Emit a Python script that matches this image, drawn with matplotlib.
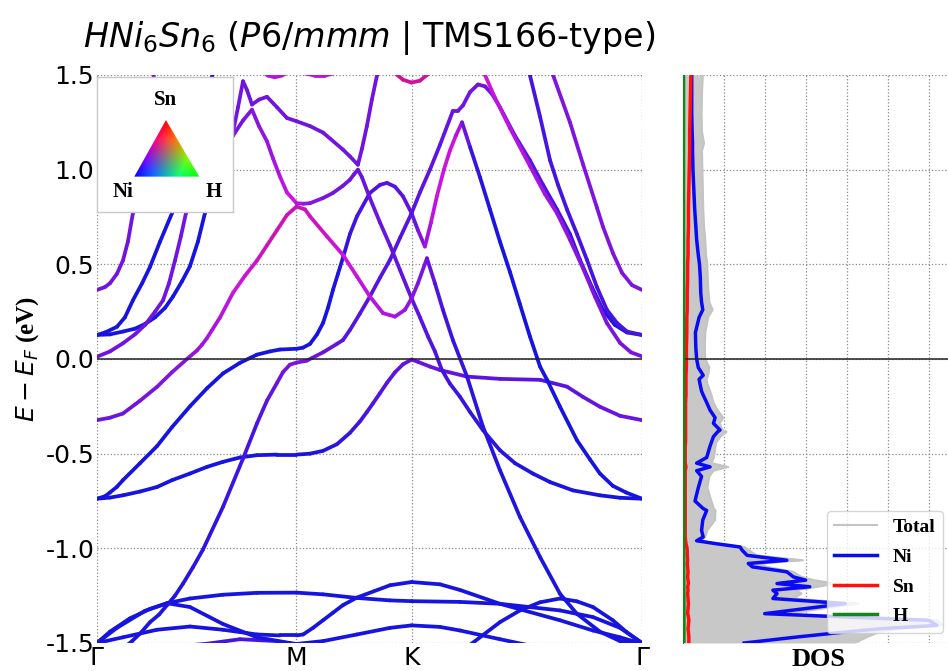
import numpy as np
import matplotlib
matplotlib.use("Agg")
import matplotlib.pyplot as plt
from matplotlib.collections import LineCollection
from matplotlib.patches import Polygon
from matplotlib.ticker import MultipleLocator

plt.rcParams['axes.unicode_minus'] = False
plt.rcParams['font.family'] = ['DejaVu Sans']

# ---------------- data ----------------
title = r'$HNi_6Sn_6$ ($\mathit{P6/mmm}$ | TMS166-type)'
kpath_ticks = [0.0, 1.0, 1.5774, 2.7321]
kpath_labels = ['Γ', 'M', 'K', 'Γ']
ytick_vals = [-1.5, -1.0, -0.5, 0.0, 0.5, 1.0, 1.5]
ytick_labels = ['-1.5', '-1.0', '-0.5', '0.0', '0.5', '1.0', '1.5']

# bands: k (path distance, Gamma-M = 1), E (eV), Sn weight (rest Ni)
bA_k = [0.000, 0.040, 0.065, 0.100, 0.130, 0.155, 0.180, 0.216, 0.256, 0.291]
bA_E = [0.365, 0.38, 0.40, 0.45, 0.52, 0.62, 0.77, 0.98, 1.25, 1.55]
bA_sn = 0.42

bB_k = [0.000, 0.040, 0.100, 0.140, 0.180, 0.226, 0.266, 0.316, 0.376, 0.441, 0.506, 0.566, 0.591]
bB_E = [0.127, 0.14, 0.17, 0.22, 0.31, 0.40, 0.487, 0.62, 0.77, 0.98, 1.20, 1.45, 1.55]
bB_sn = 0.12

bC_k = [0.000, 0.065, 0.130, 0.190, 0.241, 0.291, 0.331, 0.361, 0.391, 0.421, 0.446, 0.516,
        0.591, 0.642, 0.682, 0.707, 0.732, 0.752, 0.777, 0.812, 0.852, 0.902,
        0.952, 1.000, 1.068, 1.133, 1.233, 1.268, 1.308, 1.328, 1.353, 1.378,
        1.404, 1.429]
bC_E = [0.012, 0.04, 0.083, 0.13, 0.18, 0.25, 0.31, 0.40, 0.52, 0.65, 0.77, 0.95,
        1.08, 1.15, 1.20, 1.33, 1.467, 1.42, 1.344, 1.37, 1.385, 1.33,
        1.273, 1.256, 1.23, 1.196, 1.106, 1.07, 1.026, 1.11, 1.23, 1.37,
        1.50, 1.65]
bC_sn = 0.42

bD_k = [0.000, 0.065, 0.130, 0.190, 0.241, 0.291, 0.341, 0.381, 0.426, 0.466,
        0.506, 0.541, 0.591, 0.642, 0.682, 0.732, 0.777, 0.812, 0.852, 0.882,
        0.917, 0.952, 1.000, 1.033, 1.068, 1.133, 1.183, 1.233, 1.268, 1.288,
        1.308, 1.328, 1.368, 1.419, 1.469, 1.519, 1.577, 1.619, 1.659, 1.694,
        1.729, 1.769, 1.820, 1.870, 1.935, 2.020, 2.095, 2.185, 2.271, 2.386,
        2.521, 2.622, 2.732]
bD_E = [0.127, 0.13, 0.145, 0.16, 0.185, 0.22, 0.27, 0.33, 0.41, 0.49,
        0.62, 0.77, 0.95, 1.10, 1.18, 1.26, 1.317, 1.23, 1.15, 1.06,
        0.964, 0.88, 0.823, 0.82, 0.823, 0.85, 0.877, 0.915, 0.947, 0.975,
        1.00, 0.96, 0.85, 0.72, 0.60, 0.47, 0.32, 0.22, 0.12, 0.04,
        -0.058, -0.13, -0.20, -0.28, -0.376, -0.482, -0.55, -0.605, -0.65, -0.694,
        -0.72, -0.733, -0.738]
bD_sn = [0.12, 0.12, 0.12, 0.12, 0.12, 0.12, 0.12, 0.12, 0.12, 0.12,
         0.12, 0.12, 0.2, 0.3, 0.42, 0.45, 0.45, 0.48, 0.5, 0.52,
         0.55, 0.58, 0.6, 0.5, 0.48, 0.45, 0.42, 0.42, 0.42, 0.42,
         0.42, 0.4, 0.4, 0.4, 0.4, 0.38, 0.38, 0.36, 0.35, 0.33,
         0.3, 0.28, 0.26, 0.24, 0.22, 0.2, 0.18, 0.16, 0.15, 0.14,
         0.13, 0.12, 0.12]

bP_k = [0.000, 0.065, 0.130, 0.216, 0.301, 0.376, 0.451, 0.501, 0.526, 0.551, 0.617,
        0.682, 0.742, 0.802, 0.852, 0.902, 0.952, 1.000, 1.043, 1.068, 1.153,
        1.233, 1.303, 1.368, 1.434, 1.494, 1.544, 1.577, 1.609, 1.654, 1.694,
        1.734, 1.784, 1.855, 1.935, 2.020, 2.120, 2.221, 2.321, 2.406, 2.521,
        2.622, 2.732]
bP_E = [-0.323, -0.31, -0.288, -0.22, -0.147, -0.07, 0.0, 0.045, 0.075, 0.11, 0.22,
        0.35, 0.44, 0.52, 0.60, 0.68, 0.76, 0.805, 0.79, 0.753, 0.647,
        0.55, 0.436, 0.33, 0.242, 0.224, 0.26, 0.32, 0.40, 0.532, 0.40,
        0.26, 0.10, -0.093, -0.358, -0.587, -0.834, -1.046, -1.24, -1.346, -1.44,
        -1.49, -1.504]
bP_sn = [0.4, 0.4, 0.4, 0.42, 0.44, 0.46, 0.48, 0.5, 0.51, 0.52, 0.55,
         0.58, 0.6, 0.62, 0.64, 0.65, 0.66, 0.66, 0.65, 0.64, 0.62,
         0.6, 0.58, 0.56, 0.55, 0.54, 0.5, 0.48, 0.46, 0.42, 0.35,
         0.3, 0.26, 0.22, 0.2, 0.18, 0.16, 0.15, 0.14, 0.13, 0.12,
         0.12, 0.12]

bQ_k = [0.000, 0.040, 0.065, 0.100, 0.130, 0.216, 0.301, 0.376, 0.466, 0.551,
        0.632, 0.717, 0.802, 0.867, 0.917, 1.000, 1.033, 1.068, 1.103, 1.133,
        1.158, 1.183, 1.208, 1.233, 1.268, 1.303, 1.368, 1.419, 1.454, 1.494,
        1.534, 1.577, 1.609, 1.644, 1.674, 1.704, 1.739, 1.769, 1.799, 1.830,
        1.870, 1.920, 1.970, 2.020, 2.070, 2.120, 2.170, 2.221, 2.256, 2.321,
        2.406, 2.471, 2.521, 2.586, 2.652, 2.732]
bQ_E = [-0.738, -0.725, -0.705, -0.675, -0.64, -0.55, -0.46, -0.36, -0.25, -0.155,
        -0.076, -0.02, 0.023, 0.04, 0.05, 0.054, 0.06, 0.08, 0.13, 0.19,
        0.27, 0.365, 0.45, 0.535, 0.66, 0.753, 0.877, 0.92, 0.93, 0.91,
        0.859, 0.77, 0.68, 0.594, 0.72, 0.86, 1.0, 1.1, 1.18, 1.25,
        1.12, 0.96, 0.79, 0.62, 0.46, 0.29, 0.12, -0.04, -0.11, -0.252,
        -0.429, -0.53, -0.605, -0.67, -0.705, -0.738]
bQ_sn = [0.12, 0.12, 0.12, 0.12, 0.12, 0.12, 0.12, 0.12, 0.12, 0.12,
         0.12, 0.12, 0.12, 0.12, 0.12, 0.12, 0.12, 0.12, 0.12, 0.12,
         0.12, 0.14, 0.16, 0.2, 0.26, 0.3, 0.32, 0.34, 0.35, 0.35,
         0.36, 0.38, 0.42, 0.5, 0.55, 0.58, 0.6, 0.6, 0.58, 0.5,
         0.3, 0.2, 0.16, 0.14, 0.13, 0.12, 0.12, 0.12, 0.12, 0.12,
         0.12, 0.12, 0.12, 0.12, 0.12, 0.12]

bL_k = [0.090, 0.130, 0.176, 0.216, 0.266, 0.311, 0.351, 0.391, 0.431, 0.481, 0.531, 0.632, 0.732, 0.802,
        0.852, 0.902, 0.932, 0.967, 1.000, 1.051, 1.133, 1.203, 1.233, 1.268,
        1.318, 1.368, 1.419, 1.469, 1.519, 1.577, 1.619, 1.669, 1.719, 1.784,
        1.809, 1.835, 1.870, 1.910, 1.945, 1.980, 2.020, 2.095, 2.170, 2.236,
        2.306, 2.371, 2.421, 2.481, 2.536, 2.596, 2.657, 2.732]
bL_E = [-1.60, -1.53, -1.49, -1.45, -1.39, -1.35, -1.30, -1.25, -1.187, -1.10, -1.007, -0.78, -0.526, -0.34,
        -0.22, -0.127, -0.07, -0.03, -0.019, -0.009, 0.035, 0.08, 0.10, 0.153,
        0.24, 0.33, 0.43, 0.524, 0.64, 0.77, 0.88, 1.0, 1.13, 1.31,
        1.31, 1.34, 1.41, 1.45, 1.44, 1.40, 1.33, 1.18, 1.05, 0.92,
        0.79, 0.66, 0.524, 0.38, 0.26, 0.18, 0.14, 0.127]
bL_sn = [0.15, 0.15, 0.15, 0.15, 0.15, 0.15, 0.16, 0.17, 0.18, 0.19, 0.2, 0.24, 0.28, 0.32,
         0.36, 0.4, 0.42, 0.44, 0.45, 0.44, 0.4, 0.38, 0.36, 0.35,
         0.35, 0.35, 0.35, 0.35, 0.35, 0.35, 0.36, 0.37, 0.38, 0.4,
         0.42, 0.42, 0.42, 0.42, 0.42, 0.42, 0.4, 0.38, 0.36, 0.34,
         0.3, 0.28, 0.25, 0.22, 0.2, 0.18, 0.16, 0.15]

bG_k = [1.895, 1.945, 1.995, 2.070, 2.170, 2.246, 2.306, 2.371, 2.436, 2.496, 2.556, 2.622, 2.677, 2.732]
bG_E = [1.65, 1.50, 1.38, 1.22, 1.02, 0.87, 0.77, 0.63, 0.48, 0.33, 0.19, 0.085, 0.035, 0.014]
bG_sn = [0.6, 0.6, 0.58, 0.56, 0.54, 0.52, 0.5, 0.48, 0.46, 0.45, 0.44, 0.44, 0.44, 0.44]

bH_k = [2.120, 2.170, 2.221, 2.271, 2.311, 2.356, 2.406, 2.456, 2.506, 2.556, 2.607, 2.657, 2.732]
bH_E = [1.70, 1.50, 1.28, 1.05, 0.92, 0.79, 0.66, 0.524, 0.38, 0.26, 0.19, 0.145, 0.127]
bH_sn = 0.3

bI_k = [2.246, 2.286, 2.371, 2.436, 2.506, 2.536, 2.586, 2.632, 2.682, 2.732]
bI_E = [1.65, 1.50, 1.25, 1.03, 0.80, 0.70, 0.56, 0.455, 0.39, 0.365]
bI_sn = 0.45

bT_k = [0.000, 0.065, 0.130, 0.216, 0.301, 0.376, 0.466, 0.551, 0.632, 0.717,
        0.802, 0.902, 1.000, 1.068, 1.133, 1.203, 1.268, 1.318, 1.353, 1.383, 1.419,
        1.454, 1.494, 1.534, 1.577, 1.609, 1.669, 1.719, 1.855, 2.020, 2.221, 2.356,
        2.436, 2.521, 2.622, 2.732]
bT_E = [-0.738, -0.732, -0.72, -0.70, -0.676, -0.64, -0.605, -0.57, -0.543, -0.52,
        -0.508, -0.505, -0.505, -0.50, -0.485, -0.45, -0.39, -0.33, -0.28, -0.235, -0.18,
        -0.125, -0.07, -0.028, -0.003, -0.015, -0.04, -0.058, -0.093, -0.105, -0.11, -0.146,
        -0.20, -0.252, -0.30, -0.323]
bT_sn = [0.12, 0.12, 0.12, 0.12, 0.12, 0.12, 0.12, 0.12, 0.12, 0.12,
         0.12, 0.12, 0.12, 0.13, 0.15, 0.2, 0.25, 0.28, 0.3, 0.32, 0.34,
         0.35, 0.36, 0.38, 0.4, 0.4, 0.4, 0.4, 0.38, 0.36, 0.36, 0.36,
         0.38, 0.4, 0.4, 0.4]

b1_k = [0.000, 0.065, 0.165, 0.266, 0.351, 0.466, 0.632, 0.802, 1.000, 1.133,
        1.303, 1.469, 1.577, 1.820, 2.020, 2.321, 2.486, 2.622, 2.732]
b1_E = [-1.50, -1.44, -1.37, -1.32, -1.29, -1.265, -1.245, -1.235, -1.234, -1.243,
        -1.262, -1.275, -1.279, -1.283, -1.293, -1.328, -1.363, -1.42, -1.50]
b2_k = [0.000, 0.100, 0.241, 0.351, 0.466, 0.632, 0.802, 0.967, 1.000, 1.133,
        1.303, 1.469, 1.577, 1.719, 1.820, 2.020, 2.155]
b2_E = [-1.50, -1.42, -1.33, -1.29, -1.31, -1.40, -1.47, -1.50, -1.505, -1.49,
        -1.455, -1.42, -1.407, -1.415, -1.434, -1.48, -1.51]
b4_k = [0.000, 0.130, 0.301, 0.466, 0.632, 0.802, 0.917, 1.000, 1.033, 1.083, 1.133,
        1.183, 1.233, 1.303, 1.469, 1.577, 1.719, 1.820, 2.020, 2.321, 2.486, 2.622, 2.732]
b4_E = [-1.50, -1.47, -1.43, -1.413, -1.43, -1.455, -1.46, -1.46, -1.455, -1.42, -1.38,
        -1.34, -1.30, -1.26, -1.195, -1.178, -1.19, -1.22, -1.293, -1.38, -1.434, -1.47, -1.504]
b5_k = [0.000, 0.266, 0.551, 0.717, 0.902, 1.000, 1.168]
b5_E = [-1.56, -1.53, -1.504, -1.48, -1.49, -1.51, -1.56]
b6_k = [1.577, 1.719, 1.870, 2.020, 2.120, 2.221, 2.321, 2.406, 2.486, 2.586, 2.652, 2.732]
b6_E = [-1.72, -1.62, -1.51, -1.39, -1.328, -1.285, -1.265, -1.28, -1.31, -1.38, -1.44, -1.50]
low_sn = 0.12
b5_sn = 0.3

bU_k = [0.777, 0.827, 0.857, 0.892, 0.927, 0.967, 1.000, 1.033, 1.093, 1.143, 1.193, 1.243]
bU_E = [1.56, 1.52, 1.497, 1.488, 1.497, 1.52, 1.53, 1.51, 1.497, 1.497, 1.51, 1.55]
bU_sn = 0.55
bK_k = [1.429, 1.494, 1.534, 1.577, 1.619, 1.654, 1.694]
bK_E = [1.60, 1.51, 1.475, 1.46, 1.47, 1.50, 1.58]
bK_sn = 0.7

# DOS (states, arbitrary units) versus energy
dos_E = [1.50, 1.40, 1.30, 1.20, 1.14, 1.10, 1.00, 0.90, 0.80, 0.70,
         0.63, 0.55, 0.50, 0.43, 0.35, 0.30, 0.26, 0.22, 0.14, 0.06,
         0.00, -0.045, -0.086, -0.107, -0.13, -0.17, -0.19, -0.23, -0.27, -0.31,
         -0.34, -0.375, -0.385, -0.41, -0.44, -0.46, -0.52, -0.55, -0.57, -0.59,
         -0.62, -0.68, -0.75, -0.79, -0.80, -0.85, -0.905, -0.94, -0.96, -0.976,
         -0.993, -1.01, -1.037, -1.063, -1.08, -1.098, -1.124, -1.151, -1.168, -1.186,
         -1.203, -1.221, -1.239, -1.265, -1.292, -1.318, -1.345, -1.362, -1.38, -1.407,
         -1.425, -1.442, -1.468, -1.50]
dos_total = [0.49, 0.47, 0.46, 0.47, 0.52, 0.47, 0.48, 0.49, 0.50, 0.52,
             0.55, 0.57, 0.60, 0.61, 0.63, 0.65, 0.73, 0.62, 0.55, 0.54,
             0.55, 0.65, 0.62, 0.58, 0.60, 0.67, 0.70, 0.75, 0.85, 0.99,
             0.90, 0.97, 1.07, 0.92, 0.82, 0.80, 0.76, 0.70, 1.11, 0.75,
             0.65, 0.60, 0.70, 0.76, 0.80, 0.79, 0.60, 0.55, 0.45, 0.90,
             1.50, 1.62, 1.80, 2.93, 1.90, 2.05, 2.70, 2.90, 3.20, 3.70,
             3.30, 2.75, 2.90, 2.70, 4.30, 3.40, 2.60, 4.10, 6.20, 6.35,
             5.30, 4.80, 4.50, 4.20]
dos_ni = [0.22, 0.22, 0.22, 0.23, 0.24, 0.24, 0.25, 0.27, 0.29, 0.32,
          0.34, 0.38, 0.41, 0.43, 0.44, 0.46, 0.49, 0.40, 0.31, 0.32,
          0.34, 0.38, 0.50, 0.40, 0.42, 0.46, 0.50, 0.585, 0.667, 0.79,
          0.75, 0.91, 0.85, 0.75, 0.70, 0.667, 0.585, 0.34, 0.667, 0.34,
          0.46, 0.38, 0.30, 0.50, 0.585, 0.49, 0.46, 0.50, 0.34, 0.83,
          1.40, 1.45, 1.57, 2.54, 1.60, 1.70, 2.54, 2.70, 3.00, 2.30,
          3.10, 2.20, 2.30, 2.20, 3.96, 3.00, 2.00, 3.90, 6.00, 6.20,
          4.80, 3.96, 2.80, 1.50]
dos_sn = [0.20, 0.19, 0.18, 0.17, 0.17, 0.17, 0.16, 0.15, 0.14, 0.14,
          0.13, 0.13, 0.12, 0.12, 0.11, 0.11, 0.11, 0.10, 0.10, 0.09,
          0.09, 0.09, 0.08, 0.08, 0.08, 0.08, 0.08, 0.07, 0.07, 0.07,
          0.07, 0.07, 0.07, 0.07, 0.07, 0.06, 0.06, 0.06, 0.08, 0.06,
          0.06, 0.06, 0.06, 0.06, 0.06, 0.06, 0.06, 0.06, 0.07, 0.08,
          0.10, 0.11, 0.11, 0.12, 0.11, 0.12, 0.13, 0.12, 0.13, 0.14,
          0.12, 0.13, 0.12, 0.13, 0.14, 0.13, 0.12, 0.14, 0.15, 0.14,
          0.13, 0.14, 0.15, 0.15]
dos_h_E = [1.50, 0.50, -0.50, -1.00, -1.30, -1.50]
dos_h = [0.02, 0.02, 0.02, 0.02, 0.03, 0.03]

# ---------------- plotting ----------------
W, H = 948, 671
fig = plt.figure(figsize=(W / 100, H / 100), dpi=100)

ax = fig.add_axes([97 / W, 28 / H, 545 / W, 568 / H])
axd = fig.add_axes([682.7 / W, 28 / H, 272 / W, 568 / H])


def band_rgb(sn):
    """Ni (blue) / Sn (red) projection colour of a band segment."""
    s = 0.85 * np.asarray(sn, float)
    ni = 1 - s
    m = np.maximum(s, ni)
    return np.stack([0.8 * s / m, np.full_like(s, 0.08), 0.88 * ni / m], axis=-1)


def key_rgb(sn, h, ni):
    arr = np.stack([sn, h, ni], axis=-1) * 1.5
    return np.clip(arr, 0, 1)


bands = [
    (b5_k, b5_E, b5_sn), (b1_k, b1_E, low_sn), (b2_k, b2_E, low_sn),
    (b4_k, b4_E, low_sn), (b6_k, b6_E, low_sn),
    (bT_k, bT_E, bT_sn), (bQ_k, bQ_E, bQ_sn), (bL_k, bL_E, bL_sn),
    (bB_k, bB_E, bB_sn), (bA_k, bA_E, bA_sn), (bD_k, bD_E, bD_sn),
    (bC_k, bC_E, bC_sn), (bP_k, bP_E, bP_sn), (bH_k, bH_E, bH_sn),
    (bI_k, bI_E, bI_sn), (bG_k, bG_E, bG_sn),
    (bU_k, bU_E, bU_sn), (bK_k, bK_E, bK_sn),
]
for k, e, sn in bands:
    k = np.asarray(k, float)
    e = np.asarray(e, float)
    w = np.broadcast_to(np.asarray(sn, float), k.shape)
    pts = np.column_stack([k, e])
    segs = np.stack([pts[:-1], pts[1:]], axis=1)
    ws = 0.5 * (w[:-1] + w[1:])
    lc = LineCollection(segs, colors=band_rgb(ws), linewidths=2.7,
                        capstyle='round', joinstyle='round', zorder=3)
    ax.add_collection(lc)

ax.axhline(0, color='#222222', lw=1.1, zorder=4)
ax.set_xlim(kpath_ticks[0], kpath_ticks[-1])
ax.set_ylim(-1.5, 1.5)
ax.set_xticks(kpath_ticks)
ax.set_xticklabels(kpath_labels, fontsize=18)
ax.set_yticks(ytick_vals)
ax.set_yticklabels(ytick_labels, fontsize=18)
ax.tick_params(length=0, pad=2)
ax.grid(True, linestyle=':', color='#888888', lw=0.9, zorder=1)
for s in ax.spines.values():
    s.set_visible(False)
ax.set_ylabel(r'$E - E_F$ (eV)', fontsize=18, fontweight='bold',
              family=['Liberation Serif', 'DejaVu Serif'], labelpad=3)
ax.set_title(title, fontsize=24, pad=20)

# DOS panel
axd.fill_betweenx(dos_E, 0, dos_total, color='#c8c8c8', lw=0, zorder=2)
axd.plot(dos_total, dos_E, color='#c4c4c4', lw=1.5, label='Total', zorder=3)
axd.plot(dos_ni, dos_E, color='#0a0af5', lw=2.5, label='Ni', zorder=4)
axd.plot(dos_sn, dos_E, color='#ff1010', lw=2.5, label='Sn', zorder=4)
axd.plot(dos_h, dos_h_E, color='#118811', lw=2.5, label='H', zorder=5)
axd.axhline(0, color='#222222', lw=1.1, zorder=4)
axd.set_ylim(-1.5, 1.5)
axd.set_xlim(0, 272 / 41)
axd.xaxis.set_major_locator(MultipleLocator(1))
axd.set_yticks(ytick_vals)
axd.set_xticklabels([])
axd.set_yticklabels([])
axd.tick_params(length=0)
axd.grid(True, linestyle=':', color='#888888', lw=0.9, zorder=1)
for name, s in axd.spines.items():
    s.set_visible(name == 'left')
axd.spines['left'].set_color('#555555')
axd.set_xlabel('DOS', fontsize=19, fontweight='bold',
               family=['Liberation Serif', 'DejaVu Serif'], labelpad=0)
leg = axd.legend(loc='lower left', bbox_to_anchor=(826.7 / W, (H - 633) / H),
                 bbox_transform=fig.transFigure, borderaxespad=0,
                 prop={'family': ['Liberation Serif'], 'weight': 'bold', 'size': 14},
                 handlelength=2.2, handletextpad=0.8, labelspacing=0.62,
                 framealpha=0.8, edgecolor='#cccccc')

# ternary colour key inset
axi = fig.add_axes([97.3 / W, (H - 212.3) / H, 136 / W, 135.6 / H], zorder=10)
axi.set_xlim(0, 1)
axi.set_ylim(0, 1)
axi.set_xticks([])
axi.set_yticks([])
for s in axi.spines.values():
    s.set_color('#c8c8c8')
    s.set_linewidth(1.0)
tri_top, tri_left, tri_right = (0.505, 0.68), (0.272, 0.263), (0.75, 0.263)
n = 240
xs = np.linspace(tri_left[0], tri_right[0], n)
ys = np.linspace(tri_left[1], tri_top[1], n)
X, Y = np.meshgrid(xs, ys)
(x1, y1), (x2, y2), (x3, y3) = tri_top, tri_left, tri_right
den = (y2 - y3) * (x1 - x3) + (x3 - x2) * (y1 - y3)
l_sn = ((y2 - y3) * (X - x3) + (x3 - x2) * (Y - y3)) / den
l_ni = ((y3 - y1) * (X - x3) + (x1 - x3) * (Y - y3)) / den
l_h = 1 - l_sn - l_ni
img = key_rgb(np.clip(l_sn, 0, 1), np.clip(l_h, 0, 1), np.clip(l_ni, 0, 1))
im = axi.imshow(img, extent=(tri_left[0], tri_right[0], tri_left[1], tri_top[1]),
                origin='lower', aspect='auto', interpolation='bilinear')
tri = Polygon([tri_top, tri_left, tri_right], closed=True, transform=axi.transData,
              facecolor='none', edgecolor='none')
axi.add_patch(tri)
im.set_clip_path(tri)
kfont = dict(fontsize=15, fontweight='bold', family=['Liberation Serif', 'DejaVu Serif'],
             ha='center', va='center')
axi.text(0.505, 0.83, 'Sn', **kfont)
axi.text(0.19, 0.152, 'Ni', **kfont)
axi.text(0.853, 0.152, 'H', **kfont)

fig.savefig('out.png', dpi=100)
